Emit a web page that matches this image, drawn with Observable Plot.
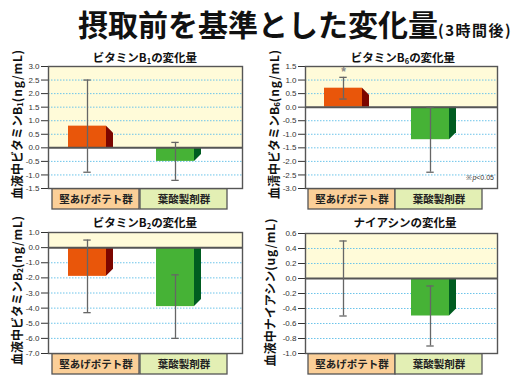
<!DOCTYPE html>
<html><head><meta charset="utf-8">
<script src="https://cdn.jsdelivr.net/npm/d3@7"></script>
<script src="https://cdn.jsdelivr.net/npm/@observablehq/plot@0.6"></script>
<style>
html,body{margin:0;padding:0;background:#fff;}
body{width:518px;height:389px;position:relative;overflow:hidden;font-family:"Noto Sans CJK JP","Noto Sans",sans-serif;color:#111;}
.abs{position:absolute;}
#title{left:78px;top:5px;font-size:30px;font-weight:700;line-height:36px;white-space:nowrap;color:#111;}
#title span{font-size:15px;letter-spacing:1.5px;}
.ptitle{width:220px;text-align:center;font-size:11.5px;font-weight:700;line-height:14px;white-space:nowrap;}
.ylab{font-size:12px;font-weight:700;white-space:nowrap;transform:translate(-50%,-50%) rotate(-90deg);line-height:13px;}
.ylab .u{letter-spacing:0.8px;}
sub{font-size:0.65em;vertical-align:-0.25em;line-height:0;}
.note{font-family:"Liberation Sans",Arial,sans-serif;font-size:7px;color:#333;width:60px;text-align:right;line-height:10px;}
</style></head><body>
<div id="title" class="abs">摂取前を基準とした変化量<span>(3時間後)</span></div>
<div id="charts"></div>
<script>
// ---- data ----
const categories = ["堅あげポテト群", "葉酸製剤群"];
const frontColors = ["#e9560a", "#46b236"];
const sideColors = ["#7c0600", "#005c20"];
const boxColors = ["#fbcf98", "#e3efb4"];

const b1Mean = [0.8, -0.5];
const b1Low = [-0.9, -1.2];
const b1High = [2.5, 0.2];
const b1Ticks = [3.0, 2.5, 2.0, 1.5, 1.0, 0.5, 0.0, -0.5, -1.0, -1.5];

const b6Mean = [0.7, -1.2];
const b6Low = [0.3, -2.4];
const b6High = [1.1, 0.0];
const b6Sig = ["*", ""];
const b6Ticks = [1.5, 1.0, 0.5, 0.0, -0.5, -1.0, -1.5, -2.0, -2.5, -3.0];

const b2Mean = [-1.9, -3.9];
const b2Low = [-4.3, -6.0];
const b2High = [0.5, -1.8];
const b2Ticks = [1.0, 0.0, -1.0, -2.0, -3.0, -4.0, -5.0, -6.0, -7.0];

const niacinMean = [0.0, -0.5];
const niacinLow = [-0.5, -0.9];
const niacinHigh = [0.5, -0.1];
const niacinTicks = [0.6, 0.4, 0.2, 0.0, -0.2, -0.4, -0.6, -0.8, -1.0];

const DEPTH = 7;
const CJK = "Noto Sans CJK JP, sans-serif";

function sideFaces(rows) {
  return (...args) => {
    const scales = args.find(a => a && typeof a.x === "function" && typeof a.y === "function");
    const {x, y} = scales;
    const bw = typeof x.bandwidth === "function" ? x.bandwidth() : x.bandwidth;
    const g = d3.create("svg:g");
    const y0 = y(0);
    for (const r of rows) {
      if (!r.mean) continue;
      const xa = x(r.cat) + bw, xb = xa + DEPTH;
      const yv = y(r.mean);
      const pts = r.mean > 0
        ? [[xa, yv], [xb, Math.min(yv + DEPTH, y0)], [xb, y0], [xa, y0]]
        : [[xa, y0], [xb, y0], [xb, Math.max(yv - DEPTH, y0)], [xa, yv]];
      g.append("polygon").attr("points", pts.map(p => p.join(",")).join(" ")).attr("fill", r.side);
    }
    return g.node();
  };
}

function panel(cfg) {
  const {mean, low, high, ticks, sig} = cfg;
  const ymax = ticks[0], ymin = ticks[ticks.length - 1];
  const rows = categories.map((cat, i) => ({
    cat, mean: mean[i], low: low[i], high: high[i], zero: 0, base: ymin,
    front: frontColors[i], side: sideColors[i], box: boxColors[i], sig: sig ? sig[i] : ""
  }));
  const grid = ticks.filter(t => t !== 0 && t !== ymax && t !== ymin);
  const plot = Plot.plot({
    width: cfg.width, height: cfg.height,
    marginTop: cfg.mt, marginBottom: cfg.mb, marginLeft: cfg.ml, marginRight: cfg.mr,
    style: {fontFamily: "Liberation Sans, Arial, sans-serif", fontSize: "8px", color: "#333", background: "transparent", overflow: "visible"},
    x: {type: "band", domain: categories, paddingInner: 0.564, paddingOuter: 0.376, align: 0.29, axis: null},
    y: {domain: [ymin, ymax], ticks, tickFormat: d => d.toFixed(1), tickSize: 7, tickPadding: 2, label: null},
    marks: [
      Plot.rect([0], {y1: 0, y2: ymax, fill: "#fffbd9"}),
      Plot.ruleY(grid, {stroke: "#6cc4ea", strokeDasharray: "1.5,1.5", strokeWidth: 1}),
      Plot.barY(rows, {x: "cat", y1: "zero", y2: "mean", fill: "front"}),
      sideFaces(rows),
      Plot.ruleY([0], {stroke: "#555", strokeWidth: 2}),
      Plot.ruleX(rows, {x: "cat", y1: "low", y2: "high", stroke: "#666", strokeWidth: 1.3}),
      Plot.tickY(rows, {x: "cat", y: "low", stroke: "#666", strokeWidth: 1.3, insetLeft: 15.3, insetRight: 15.3}),
      Plot.tickY(rows, {x: "cat", y: "high", stroke: "#666", strokeWidth: 1.3, insetLeft: 15.3, insetRight: 15.3}),
      Plot.text(rows.filter(r => r.sig), {x: "cat", y: "high", text: "sig", dy: -5, fill: "#888", fontSize: 12, fontWeight: "bold"}),
      Plot.frame({stroke: "#555", strokeWidth: 1.4}),
      Plot.barY(rows, {x: "cat", y1: "base", y2: "base", fill: "box", stroke: "#555", strokeWidth: 1.3, insetTop: 0.7, insetBottom: -21, insetLeft: -16, insetRight: -33}),
      Plot.text(rows, {x: "cat", y: "base", text: "cat", dy: 11.5, dx: 8.5, fontSize: 10.5, fontWeight: "bold", fontFamily: CJK, fill: "#222"})
    ]
  });
  plot.style.position = "absolute";
  plot.style.left = cfg.left + "px";
  plot.style.top = cfg.top + "px";
  document.getElementById("charts").appendChild(plot);
}

panel({left: 0, top: 60, width: 258, height: 150, mt: 6, mb: 22, ml: 48, mr: 16, mean: b1Mean, low: b1Low, high: b1High, ticks: b1Ticks});
panel({left: 256, top: 60, width: 262, height: 150, mt: 6, mb: 22, ml: 49, mr: 21, mean: b6Mean, low: b6Low, high: b6High, ticks: b6Ticks, sig: b6Sig});
panel({left: 0, top: 226, width: 258, height: 149, mt: 6, mb: 22, ml: 48, mr: 16, mean: b2Mean, low: b2Low, high: b2High, ticks: b2Ticks});
panel({left: 256, top: 226, width: 262, height: 149, mt: 7, mb: 22, ml: 49, mr: 21, mean: niacinMean, low: niacinLow, high: niacinHigh, ticks: niacinTicks});
</script>
<div class="abs ptitle" style="left:35px;top:50px;">ビタミンB<sub>1</sub>の変化量</div>
<div class="abs ptitle" style="left:293px;top:50px;">ビタミンB<sub>6</sub>の変化量</div>
<div class="abs ptitle" style="left:35px;top:215px;">ビタミンB<sub>2</sub>の変化量</div>
<div class="abs ptitle" style="left:295px;top:215px;">ナイアシンの変化量</div>
<div class="abs ylab" style="left:15.5px;top:124px;">血液中ビタミンB<sub>1</sub><span class="u">(ng/mL)</span></div>
<div class="abs ylab" style="left:273px;top:124px;">血清中ビタミンB<sub>6</sub><span class="u">(ng/mL)</span></div>
<div class="abs ylab" style="left:15.5px;top:290px;">血液中ビタミンB<sub>2</sub><span class="u">(ng/mL)</span></div>
<div class="abs ylab" style="left:269px;top:292px;">血液中ナイアシン<span class="u">(ug/mL)</span></div>
<div class="abs note" style="left:434px;top:173px;">※<i>p</i>&lt;0.05</div>
</body></html>
